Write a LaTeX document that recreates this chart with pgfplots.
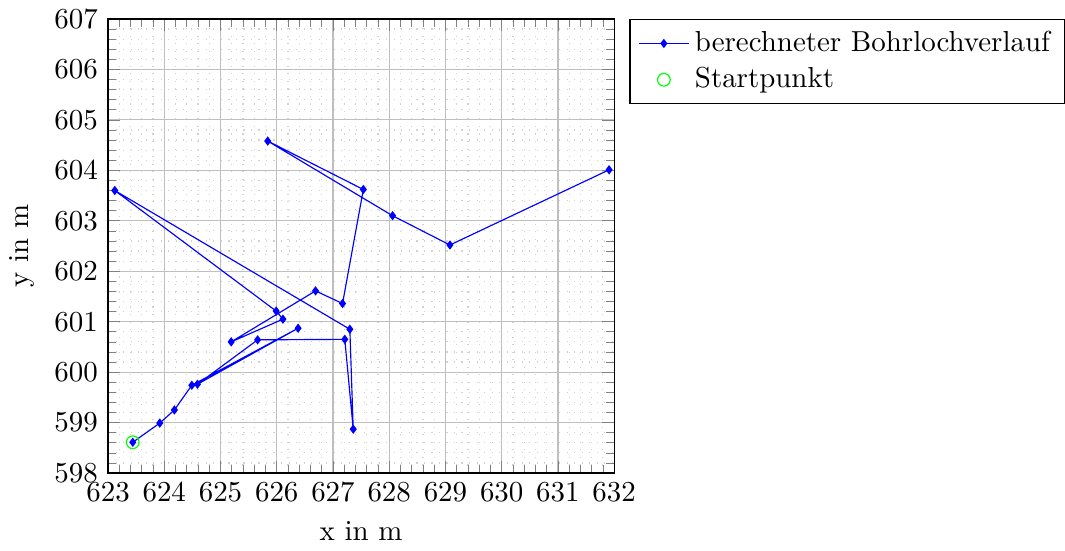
\documentclass[border=0pt]{standalone}
\usepackage{pgfplots}
\pgfplotsset{compat=1.18}
\begin{document}
\begin{tikzpicture}
\begin{axis}[
  scale only axis,
  width=175pt, height=157pt,
  xmin=623, xmax=632, ymin=598, ymax=607,
  xtick={623,624,...,632}, ytick={598,599,...,607},
  minor tick num=4,
  grid=both,
  major grid style={gray!50},
  minor grid style={dash pattern=on 0.4pt off 2.2pt, gray!35},
  xlabel={x in m}, ylabel={y in m},
  legend pos=outer north east,
  legend cell align=left,
  legend style={draw=black},
]
\addplot[blue, mark=diamond*, mark size=1.3pt] coordinates {
(623.44,598.61)
(623.92,598.99)
(624.18,599.25)
(624.49,599.74)
(626.38,600.87)
(624.59,599.76)
(625.66,600.64)
(627.21,600.65)
(627.36,598.87)
(627.30,600.85)
(623.12,603.60)
(625.99,601.21)
(626.11,601.05)
(625.19,600.60)
(626.69,601.61)
(627.17,601.36)
(627.54,603.62)
(625.84,604.58)
(628.06,603.10)
(629.08,602.52)
(631.91,604.01)
};
\addlegendentry{berechneter Bohrlochverlauf}
\addplot[only marks, green, mark=o, mark size=2.2pt] coordinates {(623.44,598.61)};
\addlegendentry{Startpunkt}
\end{axis}
\end{tikzpicture}
\end{document}
